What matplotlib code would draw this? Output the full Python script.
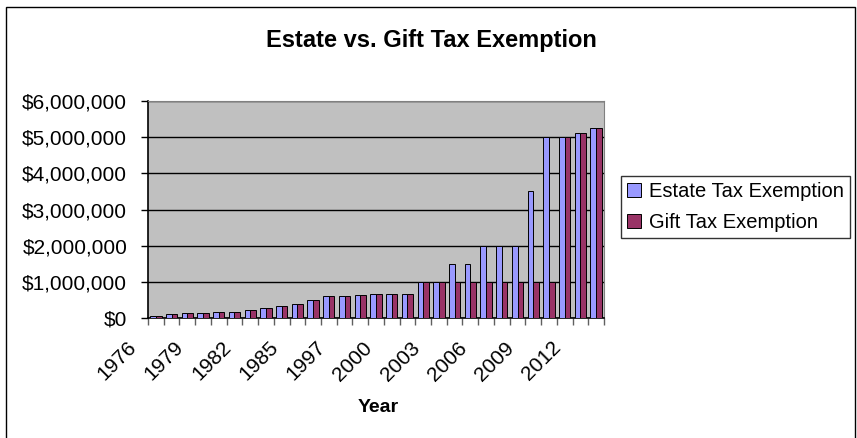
import matplotlib.pyplot as plt
import matplotlib.transforms as mtransforms
from matplotlib.patches import Patch, Rectangle
from matplotlib.ticker import FuncFormatter
import numpy as np

plt.rcParams['font.family'] = ['Liberation Sans', 'DejaVu Sans']

years = ['1976', '1977', '1978', '1979', '1980', '1981', '1982', '1983', '1984',
         '1985', '1986', '1987', '1997', '1998', '1999', '2000', '2001', '2002',
         '2003', '2004', '2005', '2006', '2007', '2008', '2009', '2010', '2011',
         '2012', '2013']
estate = [60000, 120000, 134000, 147000, 161000, 175000, 225000, 275000, 325000,
          400000, 500000, 600000, 600000, 625000, 650000, 675000, 675000, 1000000,
          1000000, 1500000, 1500000, 2000000, 2000000, 2000000, 3500000, 5000000,
          5000000, 5120000, 5250000]
gift = [60000, 120000, 134000, 147000, 161000, 175000, 225000, 275000, 325000,
        400000, 500000, 600000, 600000, 625000, 650000, 675000, 675000, 1000000,
        1000000, 1000000, 1000000, 1000000, 1000000, 1000000, 1000000, 1000000,
        5000000, 5120000, 5250000]
labeled = ['1976', '1979', '1982', '1985', '1997', '2000', '2003', '2006', '2009', '2012']

W, H = 857, 438
fig = plt.figure(figsize=(W / 100, H / 100), dpi=100)
ax = fig.add_axes([148 / W, 1 - 318 / H, 456 / W, 217 / H])

n = len(years)
x = np.arange(n) + 0.5
bw = 0.36
ax.bar(x - bw / 2, estate, bw, color='#9999FF', edgecolor='black', linewidth=0.7, zorder=3,
       label='Estate Tax Exemption')
ax.bar(x + bw / 2, gift, bw, color='#993366', edgecolor='black', linewidth=0.7, zorder=3,
       label='Gift Tax Exemption')

ax.set_facecolor('#C0C0C0')
ax.set_xlim(0, n)
ax.set_ylim(0, 6000000)
ax.set_yticks(np.arange(0, 6000001, 1000000))
ax.yaxis.set_major_formatter(FuncFormatter(lambda v, p: '${:,.0f}'.format(v)))
ax.grid(axis='y', color='black', linewidth=1, zorder=1)
ax.tick_params(axis='y', labelsize=15, length=5, width=1, pad=10)

# ticks at category boundaries, labels placed under every third category
ax.set_xticks(np.arange(n + 1))
ax.set_xticklabels([])
ax.tick_params(axis='x', length=5, width=1, color='#606060')

off = mtransforms.ScaledTranslation(-29 / 100, -20 / 100, fig.dpi_scale_trans)
trans = mtransforms.blended_transform_factory(ax.transData, ax.transAxes) + off
for i, yr in enumerate(years):
    if yr in labeled:
        ax.text(i + 0.5, 0, yr, transform=trans, rotation=45, ha='right', va='top',
                rotation_mode='anchor', fontsize=15)

for s in ['top', 'right']:
    ax.spines[s].set_color('#808080')
for s in ['left', 'bottom']:
    ax.spines[s].set_color('black')
    ax.spines[s].set_linewidth(1.2)

fig.text(431 / W, 1 - 40 / H, 'Estate vs. Gift Tax Exemption', ha='center', va='center',
         fontsize=17, fontweight='bold')
fig.text(378 / W, 1 - 407 / H, 'Year', ha='center', va='center', fontsize=14,
         fontweight='bold')

handles = [Patch(facecolor='#9999FF', edgecolor='black', linewidth=0.7),
           Patch(facecolor='#993366', edgecolor='black', linewidth=0.7)]
leg = fig.legend(handles, ['Estate Tax Exemption', 'Gift Tax Exemption'], loc='upper left',
                 bbox_to_anchor=(621 / W, 1 - 176 / H), fontsize=14.5, frameon=True,
                 fancybox=False, edgecolor='black', borderaxespad=0, borderpad=0.3,
                 handlelength=0.7, handleheight=0.7, handletextpad=0.4, labelspacing=0.6)
leg.get_frame().set_linewidth(1)

fig.patches.append(Rectangle((6 / W, -0.1), 849 / W, 1.1 - 7 / H, transform=fig.transFigure,
                             fill=False, edgecolor='black', linewidth=1))

fig.savefig('out.png', dpi=100)
